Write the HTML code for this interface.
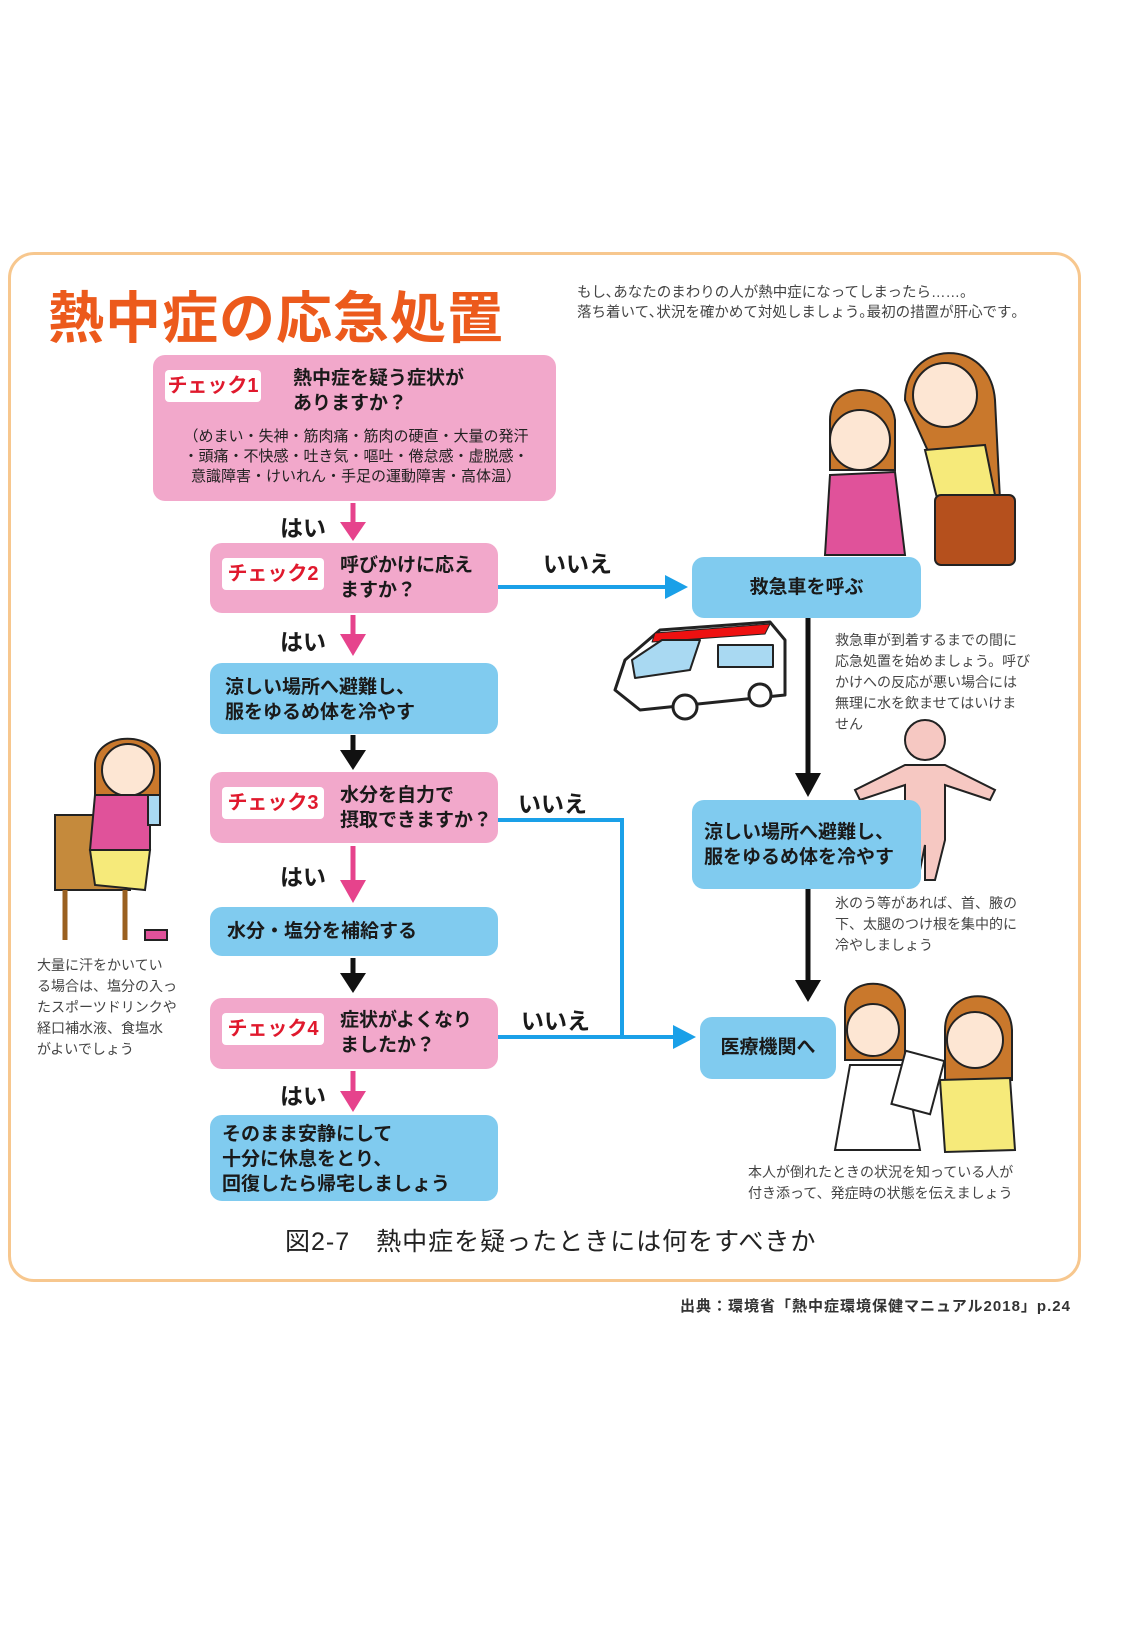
<!DOCTYPE html>
<html><head><meta charset="utf-8"><style>
*{margin:0;padding:0;box-sizing:border-box}
body{width:1125px;height:1625px;background:#fff;position:relative;overflow:hidden;font-family:"Liberation Sans","Noto Sans CJK JP",sans-serif;color:#222}
.a{position:absolute}
.pk{position:absolute;background:#f2a8cb;border-radius:12px}
.bl{position:absolute;background:#80cbef;border-radius:12px;font-weight:bold;font-size:19px;color:#1a1a1a;line-height:25px}
.lab{position:absolute;background:#fff;border-radius:4px;color:#e0192d;font-weight:bold;font-size:20px;text-align:center;line-height:32px}
.q{position:absolute;font-weight:bold;font-size:19px;line-height:25px;color:#1a1a1a}
.yn{position:absolute;font-weight:bold;font-size:23px;color:#1a1a1a}
.s{position:absolute;font-size:14px;line-height:21px;color:#444}
</style></head><body>
<div class="a" style="left:8px;top:252px;width:1073px;height:1030px;border:3px solid #f7c78e;border-radius:26px"></div>
<div class="a" style="left:48px;top:274px;font-size:56px;font-weight:bold;color:#ec5a1c;letter-spacing:1px">熱中症の応急処置</div>
<div class="s" style="left:577px;top:283px;font-size:14.5px;line-height:20px">もし､あなたのまわりの人が熱中症になってしまったら……。<br>落ち着いて､状況を確かめて対処しましょう｡最初の措置が肝心です｡</div>

<svg class="a" style="left:0;top:0" width="1125" height="1625">
<g stroke="#1aa0e8" stroke-width="4" fill="none">
<line x1="497" y1="587" x2="668" y2="587"/>
<polyline points="497,820 622,820 622,1037"/>
<line x1="497" y1="1037" x2="676" y2="1037"/>
</g>
<g fill="#1aa0e8"><polygon points="665,575 688,587 665,599"/><polygon points="673,1025 696,1037 673,1049"/></g>
<g stroke="#e6438c" stroke-width="5"><line x1="353" y1="503" x2="353" y2="525"/><line x1="353" y1="615" x2="353" y2="637"/><line x1="353" y1="846" x2="353" y2="883"/><line x1="353" y1="1071" x2="353" y2="1094"/></g>
<g fill="#e6438c"><polygon points="340,522 366,522 353,541"/><polygon points="340,634 366,634 353,656"/><polygon points="340,880 366,880 353,903"/><polygon points="340,1091 366,1091 353,1112"/></g>
<g stroke="#111" stroke-width="5"><line x1="353" y1="735" x2="353" y2="752"/><line x1="353" y1="958" x2="353" y2="975"/><line x1="808" y1="618" x2="808" y2="775"/><line x1="808" y1="889" x2="808" y2="982"/></g>
<g fill="#111"><polygon points="340,750 366,750 353,770"/><polygon points="340,973 366,973 353,993"/><polygon points="795,773 821,773 808,797"/><polygon points="795,980 821,980 808,1002"/></g>
<g stroke="#222" stroke-width="3" stroke-linejoin="round">
<path d="M625,660 L660,630 L770,622 L785,640 L785,695 L640,710 L615,690 Z" fill="#fff"/>
<path d="M655,633 L770,624 L765,634 L652,642Z" fill="#e11" stroke-width="1"/>
<path d="M632,660 L662,640 L700,640 L690,670 L635,678Z" fill="#a9d9f2" stroke-width="2"/>
<rect x="718" y="645" width="55" height="22" fill="#a9d9f2" stroke-width="2"/>
<circle cx="685" cy="707" r="12" fill="#fff"/><circle cx="760" cy="695" r="11" fill="#fff"/>
</g>
<g stroke="#222" stroke-width="2">
<path d="M905,400 C905,340 990,335 995,400 L1000,500 L950,500Z" fill="#c9782c"/>
<circle cx="945" cy="395" r="32" fill="#fde6d3"/>
<path d="M925,450 L985,445 L1000,520 L945,530Z" fill="#f6ea7a"/>
<rect x="935" y="495" width="80" height="70" rx="6" fill="#b5501d"/>
<path d="M830,420 C830,380 890,380 895,420 L895,470 L830,470Z" fill="#c9782c"/>
<circle cx="860" cy="440" r="30" fill="#fde6d3"/>
<path d="M830,475 L895,472 L905,555 L825,555Z" fill="#e0529a"/>
</g>
<g stroke="#222" stroke-width="2" fill="#f6c8c2">
<circle cx="925" cy="740" r="20"/>
<path d="M905,765 L945,765 L995,790 L990,800 L945,785 L945,840 L935,880 L925,880 L925,845 L918,880 L908,880 L905,840 L905,785 L860,800 L855,790Z"/>
</g>
<g stroke="#222" stroke-width="2">
<path d="M945,1030 C945,985 1010,985 1012,1030 L1012,1080 L945,1080Z" fill="#c9782c"/>
<circle cx="975" cy="1040" r="28" fill="#fde6d3"/>
<path d="M940,1080 L1010,1078 L1015,1150 L945,1152Z" fill="#f6ea7a"/>
<path d="M845,1010 C845,975 900,975 905,1010 L905,1060 L845,1060Z" fill="#c9782c"/>
<circle cx="873" cy="1030" r="26" fill="#fde6d3"/>
<path d="M850,1065 L905,1065 L920,1150 L835,1150Z" fill="#fff"/>
<rect x="898" y="1055" width="40" height="55" fill="#fff" transform="rotate(15 918 1082)"/>
</g>
<g stroke="#222" stroke-width="2">
<rect x="55" y="815" width="75" height="75" fill="#c58a3c"/>
<line x1="65" y1="890" x2="65" y2="940" stroke-width="5" stroke="#9a6020"/><line x1="125" y1="890" x2="125" y2="940" stroke-width="5" stroke="#9a6020"/>
<path d="M95,765 C95,730 160,730 160,765 L160,800 L95,800Z" fill="#c9782c"/>
<circle cx="128" cy="770" r="26" fill="#fde6d3"/>
<path d="M95,795 L150,795 L150,850 L90,850Z" fill="#e0529a"/>
<path d="M90,850 L150,850 L145,890 L95,885Z" fill="#f6ea7a"/>
<rect x="145" y="930" width="22" height="10" fill="#e0529a"/>
<rect x="148" y="795" width="12" height="30" fill="#a9d9f2"/>
</g>
</svg>

<div class="pk" style="left:153px;top:355px;width:403px;height:146px"></div>
<div class="lab" style="left:165px;top:370px;width:96px">チェック1</div>
<div class="q" style="left:293px;top:366px">熱中症を疑う症状が<br>ありますか？</div>
<div class="a" style="left:160px;top:427px;width:392px;font-size:15px;line-height:20px;text-align:center;color:#222">（めまい・失神・筋肉痛・筋肉の硬直・大量の発汗<br>・頭痛・不快感・吐き気・嘔吐・倦怠感・虚脱感・<br>意識障害・けいれん・手足の運動障害・高体温）</div>

<div class="yn" style="left:280px;top:509px">はい</div>
<div class="pk" style="left:210px;top:543px;width:288px;height:70px"></div>
<div class="lab" style="left:222px;top:558px;width:102px">チェック2</div>
<div class="q" style="left:340px;top:553px">呼びかけに応え<br>ますか？</div>
<div class="yn" style="left:543px;top:545px">いいえ</div>
<div class="bl" style="left:692px;top:557px;width:229px;height:61px;text-align:center;line-height:61px">救急車を呼ぶ</div>

<div class="yn" style="left:280px;top:623px">はい</div>
<div class="bl" style="left:210px;top:663px;width:288px;height:71px;padding:12px 0 0 15px">涼しい場所へ避難し、<br>服をゆるめ体を冷やす</div>

<div class="pk" style="left:210px;top:772px;width:288px;height:71px"></div>
<div class="lab" style="left:222px;top:787px;width:102px">チェック3</div>
<div class="q" style="left:340px;top:783px">水分を自力で<br>摂取できますか？</div>
<div class="yn" style="left:518px;top:785px">いいえ</div>

<div class="yn" style="left:280px;top:858px">はい</div>
<div class="bl" style="left:210px;top:907px;width:288px;height:49px;padding:12px 0 0 17px">水分・塩分を補給する</div>

<div class="pk" style="left:210px;top:998px;width:288px;height:71px"></div>
<div class="lab" style="left:222px;top:1013px;width:102px">チェック4</div>
<div class="q" style="left:340px;top:1008px">症状がよくなり<br>ましたか？</div>
<div class="yn" style="left:521px;top:1002px">いいえ</div>

<div class="yn" style="left:280px;top:1077px">はい</div>
<div class="bl" style="left:210px;top:1115px;width:288px;height:86px;padding:7px 0 0 12px">そのまま安静にして<br>十分に休息をとり、<br>回復したら帰宅しましょう</div>

<div class="bl" style="left:692px;top:800px;width:229px;height:89px;padding:20px 0 0 12px">涼しい場所へ避難し、<br>服をゆるめ体を冷やす</div>
<div class="bl" style="left:700px;top:1017px;width:136px;height:62px;text-align:center;line-height:62px">医療機関へ</div>

<div class="s" style="left:835px;top:630px">救急車が到着するまでの間に<br>応急処置を始めましょう。呼び<br>かけへの反応が悪い場合には<br>無理に水を飲ませてはいけま<br>せん</div>
<div class="s" style="left:835px;top:893px">氷のう等があれば、首、腋の<br>下、太腿のつけ根を集中的に<br>冷やしましょう</div>
<div class="s" style="left:748px;top:1162px">本人が倒れたときの状況を知っている人が<br>付き添って、発症時の状態を伝えましょう</div>
<div class="s" style="left:37px;top:955px">大量に汗をかいてい<br>る場合は、塩分の入っ<br>たスポーツドリンクや<br>経口補水液、食塩水<br>がよいでしょう</div>

<div class="a" style="left:285px;top:1222px;font-size:25px;letter-spacing:1px;color:#222">図2-7　熱中症を疑ったときには何をすべきか</div>
<div class="a" style="left:680px;top:1295px;font-size:15px;letter-spacing:1px;font-weight:bold;color:#333">出典：環境省「熱中症環境保健マニュアル2018」p.24</div>
</body></html>
